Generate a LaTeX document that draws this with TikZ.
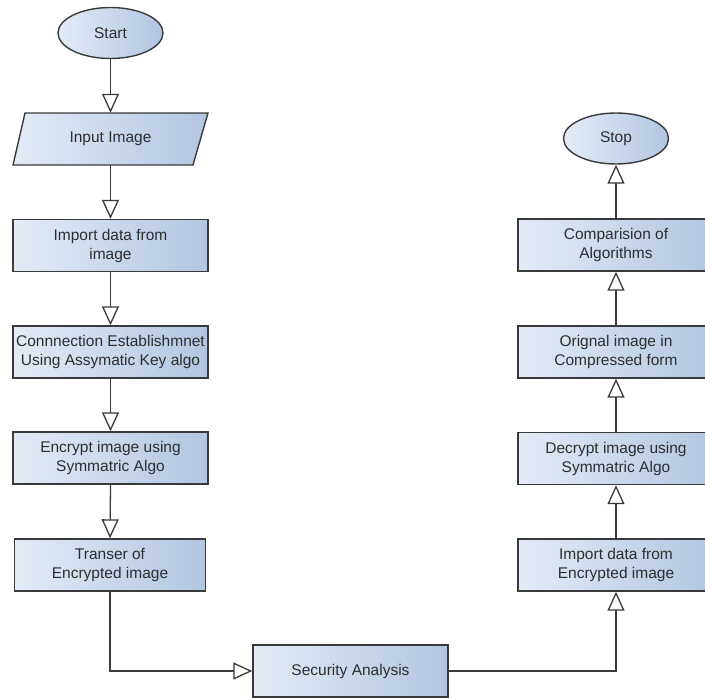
\documentclass[tikz,border=0pt]{standalone}
\usepackage{fontspec}
\setmainfont{Liberation Sans}
\usetikzlibrary{arrows.meta,shapes.geometric,calc}
\definecolor{lnc}{HTML}{3A3A3A}
\definecolor{txc}{HTML}{2E2E2E}
\definecolor{fl}{HTML}{E4EBF6}
\definecolor{fr}{HTML}{B2C5E2}
\begin{document}
\begin{tikzpicture}[x=1pt,y=-1pt,
  every node/.style={text=txc,font=\fontsize{15.5}{19}\selectfont,align=center,inner sep=0pt},
  procbox/.style={draw=lnc,line width=1.4pt,left color=fl,right color=fr,minimum width=195pt,minimum height=52pt},
  termnode/.style={ellipse,draw=lnc,line width=1.4pt,left color=fl,right color=fr,minimum width=105pt,minimum height=51pt},
  flow/.style={draw=lnc,line width=1.3pt,-{Triangle[length=19pt,width=17pt,fill=white,line width=1.3pt]}}
]
\useasboundingbox (0,0) rectangle (705,698);
% left column
\node[termnode] (start) at (110.5,33) {Start};
\shade[left color=fl,right color=fr] (25,113) -- (208,113) -- (193,165) -- (13,165) -- cycle;
\draw[lnc,line width=1.4pt,line join=miter] (25,113) -- (208,113) -- (193,165) -- (13,165) -- cycle;
\node[minimum width=160pt,minimum height=52pt] (inp) at (110.5,139) {Input Image};
\node[procbox] (imp) at (110.5,245.5) {Import data from\\image};
\node[procbox] (conn) at (110.5,352) {Connnection Establishmnet\\Using Assymatic Key algo};
\node[procbox] (enc) at (110.5,458) {Encrypt image using\\Symmatric Algo};
\node[procbox,minimum width=191pt] (trans) at (110,565) {Transer of\\Encrypted image};
% bottom
\node[procbox] (sec) at (350.5,671) {Security Analysis};
% right column
\node[termnode] (stop) at (616,138.5) {Stop};
\node[procbox,minimum width=196pt] (comp) at (616,245) {Comparision of\\Algorithms};
\node[procbox,minimum width=196pt] (orig) at (616,352) {Orignal image in\\Compressed form};
\node[procbox,minimum width=196pt] (dec) at (616,458.5) {Decrypt image using\\Symmatric Algo};
\node[procbox,minimum width=196pt] (impe) at (616,565) {Import data from\\Encrypted image};
% connectors
\draw[flow] (start.south) -- (inp.north);
\draw[flow] (inp.south) -- (imp.north);
\draw[flow] (imp.south) -- (conn.north);
\draw[flow] (conn.south) -- (enc.north);
\draw[flow] (enc.south) -- (trans.north);
\draw[flow] (trans.south) |- (sec.west);
\draw[flow] (sec.east) -| (impe.south);
\draw[flow] (impe.north) -- (dec.south);
\draw[flow] (dec.north) -- (orig.south);
\draw[flow] (orig.north) -- (comp.south);
\draw[flow] (comp.north) -- (stop.south);
\end{tikzpicture}
\end{document}
